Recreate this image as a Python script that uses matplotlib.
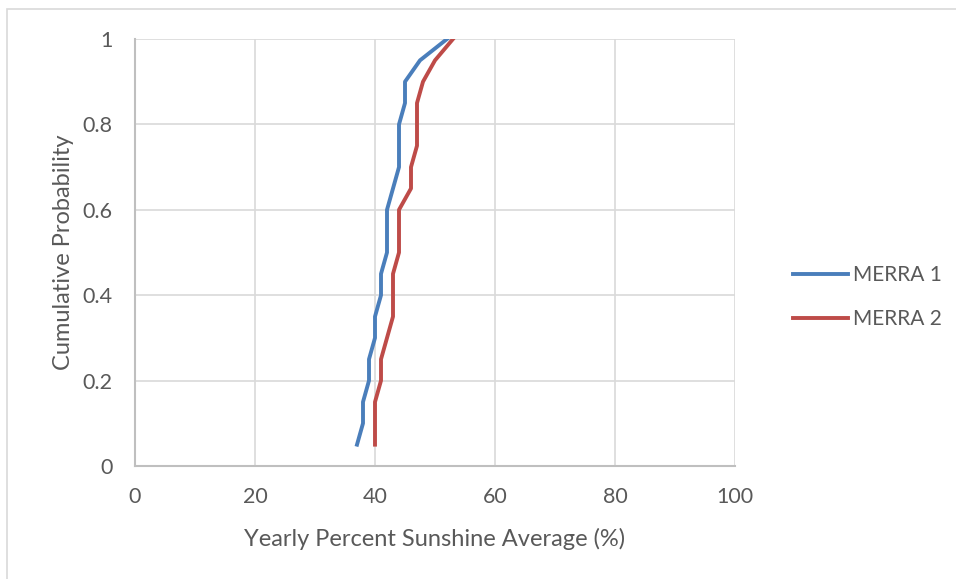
import matplotlib.pyplot as plt
from matplotlib.patches import Rectangle

plt.rcParams['font.family'] = ['Lato', 'DejaVu Sans']

prob = [0.05, 0.10, 0.15, 0.20, 0.25, 0.30, 0.35, 0.40, 0.45, 0.50,
        0.55, 0.60, 0.65, 0.70, 0.75, 0.80, 0.85, 0.90, 0.95, 1.00]
merra1 = [37, 38, 38, 39, 39, 40, 40, 41, 41, 42,
          42, 42, 43, 44, 44, 44, 45, 45, 47.5, 52]
merra2 = [40, 40, 40, 41, 41, 42, 43, 43, 43, 44,
          44, 44, 46, 46, 47, 47, 47, 48, 50, 53]

x_ticks = [0, 20, 40, 60, 80, 100]
y_ticks = [0, 0.2, 0.4, 0.6, 0.8, 1]
y_labels = ['0', '0.2', '0.4', '0.6', '0.8', '1']

text_color = '#595959'
grid_color = '#d9d9d9'
axis_color = '#bfbfbf'

fig = plt.figure(figsize=(9.56, 5.79), dpi=100)
ax = fig.add_axes([135 / 956, 113 / 579, 600 / 956, 427 / 579])

# chart frame
fig.patches.append(Rectangle((7 / 956, -0.05), 1.1, (579 - 9) / 579 + 0.05,
                             transform=fig.transFigure, fill=False,
                             edgecolor=grid_color, linewidth=1.2))

ax.plot(merra1, prob, color='#4a7ebb', linewidth=2.8, label='MERRA 1')
ax.plot(merra2, prob, color='#be4b48', linewidth=2.8, label='MERRA 2')

ax.set_xlim(0, 100)
ax.set_ylim(0, 1)
ax.set_xticks(x_ticks)
ax.set_yticks(y_ticks)
ax.set_yticklabels(y_labels)
ax.tick_params(length=0, labelsize=15.5, labelcolor=text_color)
ax.tick_params(axis='y', pad=16)
ax.tick_params(axis='x', pad=15)
ax.grid(True, color=grid_color, linewidth=1.2)
ax.set_axisbelow(True)

for side in ['top', 'right']:
    ax.spines[side].set_visible(False)
for side in ['left', 'bottom']:
    ax.spines[side].set_color(axis_color)
    ax.spines[side].set_linewidth(1.5)

ax.set_xlabel('Yearly Percent Sunshine Average (%)', fontsize=17,
              color=text_color, labelpad=15)
ax.set_ylabel('Cumulative Probability', fontsize=17, color=text_color,
              labelpad=6)

ax.legend(loc='center left', bbox_to_anchor=(1.097, 0.396), frameon=False,
          fontsize=15, labelcolor=text_color, handlelength=2.64,
          handletextpad=0.25, labelspacing=1.15, borderpad=0,
          borderaxespad=0)

fig.savefig('out.png', dpi=100)
